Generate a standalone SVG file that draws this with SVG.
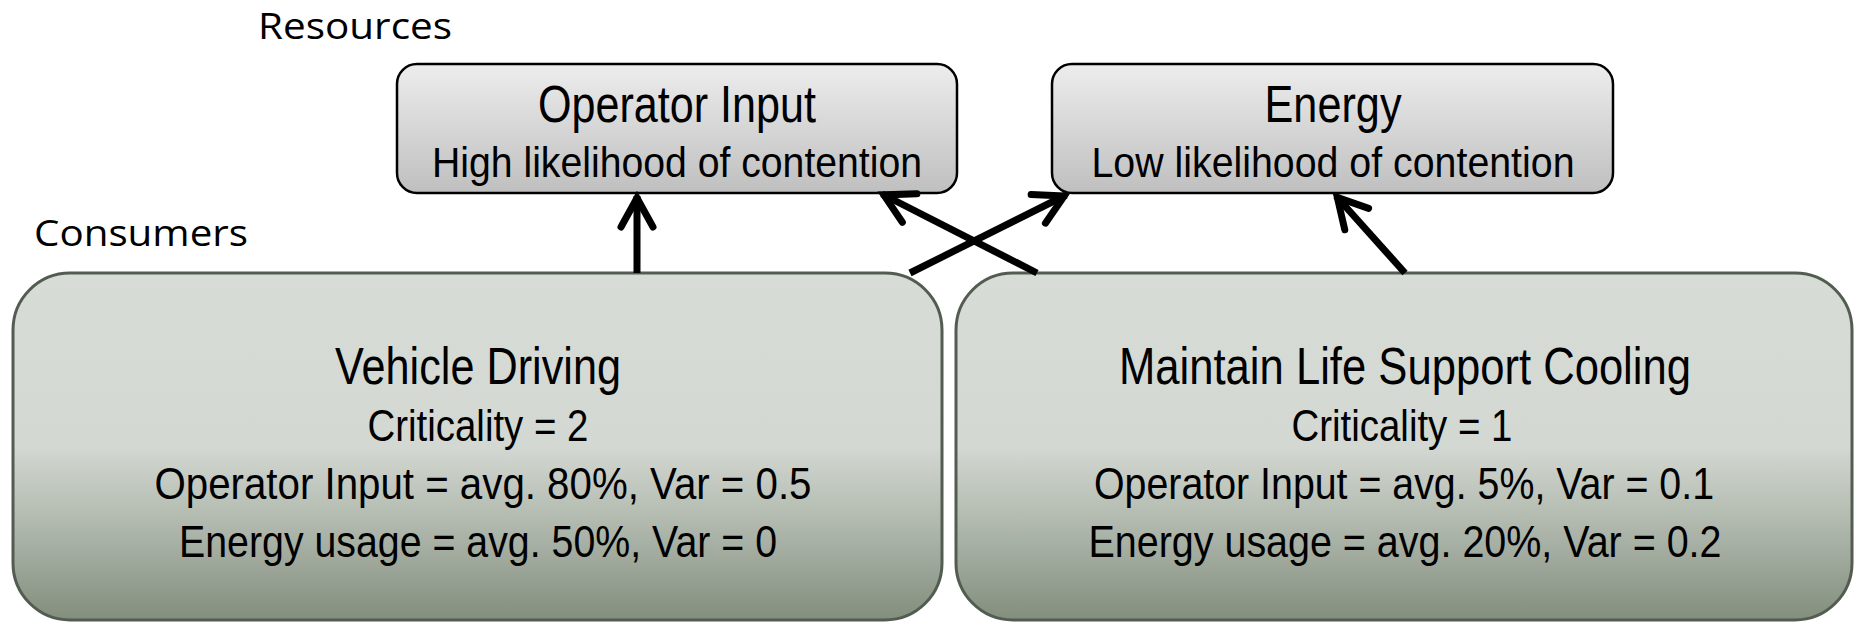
<svg xmlns="http://www.w3.org/2000/svg" width="1854" height="622" viewBox="0 0 1854 622">
<style>
.lbl{font-family:"Open Sans","Liberation Sans",sans-serif;font-size:37px;fill:#000}
.t{font-family:"Liberation Sans Narrow","Liberation Sans",Arial,sans-serif;fill:#000;text-anchor:middle}
.big{font-size:52px}
.mid{font-size:43px}
.sm{font-size:45px}
.res{fill:url(#gGray);stroke:#000;stroke-width:2.5}
.con{fill:url(#gGreen);stroke:#535c50;stroke-width:3}
.arr{fill:none;stroke:#000;stroke-width:7;marker-end:url(#ah)}
</style>
<defs>
<linearGradient id="gGray" x1="0" y1="0" x2="0" y2="1">
<stop offset="0" stop-color="#ededed"/>
<stop offset="1" stop-color="#bfbfbf"/>
</linearGradient>
<linearGradient id="gGreen" x1="0" y1="0" x2="0" y2="1">
<stop offset="0" stop-color="#d7dcd6"/>
<stop offset="0.5" stop-color="#d3d8d2"/>
<stop offset="0.72" stop-color="#b1b9ae"/>
<stop offset="1" stop-color="#838e7d"/>
</linearGradient>
<marker id="ah" markerUnits="userSpaceOnUse" viewBox="-40 -25 50 50" refX="0" refY="0" markerWidth="50" markerHeight="50" orient="auto">
<path d="M-31,-16 L-2,0 L-31,16" fill="none" stroke="#000" stroke-width="7" stroke-linecap="round" stroke-linejoin="miter"/>
</marker>
</defs>
<text class="lbl" x="258" y="39" textLength="194" lengthAdjust="spacingAndGlyphs">Resources</text>
<text class="lbl" x="34" y="246" textLength="214" lengthAdjust="spacingAndGlyphs">Consumers</text>
<g id="operator-input">
<rect class="res" x="397" y="64" width="560" height="129" rx="20"/>
<text class="t big" x="677" y="122" textLength="278" lengthAdjust="spacingAndGlyphs">Operator Input</text>
<text class="t mid" x="677" y="177" textLength="490" lengthAdjust="spacingAndGlyphs">High likelihood of contention</text>
</g>
<g id="energy">
<rect class="res" x="1052" y="64" width="561" height="129" rx="20"/>
<text class="t big" x="1333" y="122" textLength="137" lengthAdjust="spacingAndGlyphs">Energy</text>
<text class="t mid" x="1333" y="177" textLength="483" lengthAdjust="spacingAndGlyphs">Low likelihood of contention</text>
</g>
<g id="vehicle-driving">
<rect class="con" x="13" y="273" width="929" height="347" rx="57"/>
<text class="t big" x="478" y="384" textLength="286" lengthAdjust="spacingAndGlyphs">Vehicle Driving</text>
<text class="t sm" x="478" y="441" textLength="221" lengthAdjust="spacingAndGlyphs">Criticality = 2</text>
<text class="t sm" x="483" y="499" textLength="657" lengthAdjust="spacingAndGlyphs">Operator Input = avg. 80%, Var = 0.5</text>
<text class="t sm" x="478" y="557" textLength="598" lengthAdjust="spacingAndGlyphs">Energy usage = avg. 50%, Var = 0</text>
</g>
<g id="life-support-cooling">
<rect class="con" x="956" y="273" width="896" height="347" rx="57"/>
<text class="t big" x="1405" y="384" textLength="572" lengthAdjust="spacingAndGlyphs">Maintain Life Support Cooling</text>
<text class="t sm" x="1402" y="441" textLength="221" lengthAdjust="spacingAndGlyphs">Criticality = 1</text>
<text class="t sm" x="1404" y="499" textLength="620" lengthAdjust="spacingAndGlyphs">Operator Input = avg. 5%, Var = 0.1</text>
<text class="t sm" x="1405" y="557" textLength="633" lengthAdjust="spacingAndGlyphs">Energy usage = avg. 20%, Var = 0.2</text>
</g>
<g id="connectors">
<path class="arr" d="M637,273 L637,196"/>
<path class="arr" d="M910,273 L1066,195"/>
<path class="arr" d="M1037,273 L882,194"/>
<path class="arr" d="M1405,273 L1336,196"/>
</g>
</svg>
